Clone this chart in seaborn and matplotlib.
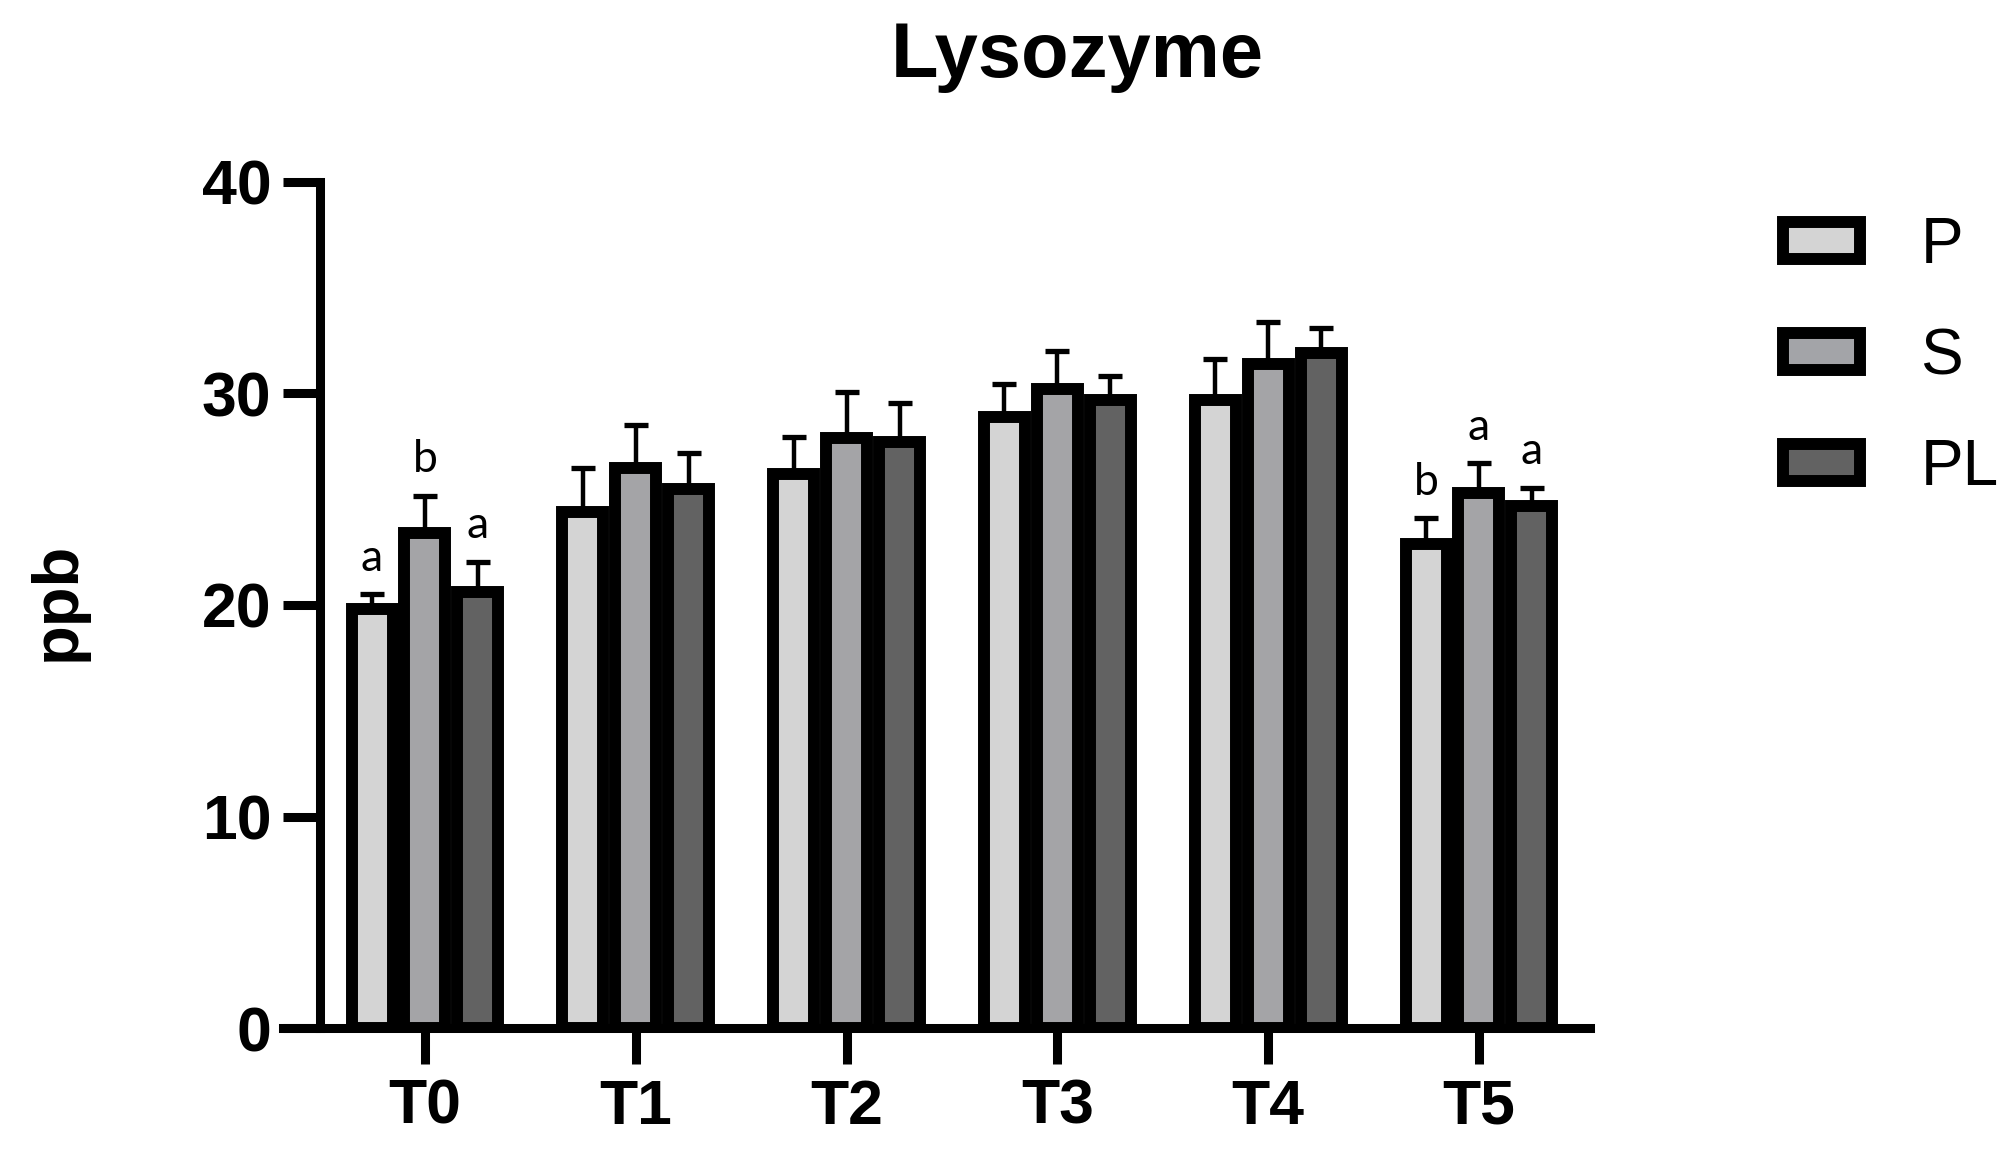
import numpy as np
import pandas as pd
import matplotlib
matplotlib.use("Agg")
import matplotlib.pyplot as plt
import matplotlib.patches as mpatches
import seaborn as sns

# ---------------- data ----------------
times = ["T0", "T1", "T2", "T3", "T4", "T5"]
groups = ["P", "S", "PL"]

P_mean = [19.8, 24.4, 26.2, 28.9, 29.7, 22.9]
S_mean = [23.4, 26.5, 27.9, 30.2, 31.4, 25.3]
PL_mean = [20.6, 25.5, 27.7, 29.7, 31.9, 24.7]

P_err = [0.7, 2.1, 1.75, 1.55, 1.95, 1.2]
S_err = [1.75, 2.0, 2.15, 1.8, 2.0, 1.4]
PL_err = [1.45, 1.7, 1.85, 1.15, 1.2, 0.85]

P_letters = ["a", "", "", "", "", "b"]
S_letters = ["b", "", "", "", "", "a"]
PL_letters = ["a", "", "", "", "", "a"]

colors = ["#d4d4d4", "#a3a4a8", "#626262"]

means = [P_mean, S_mean, PL_mean]
errs = [P_err, S_err, PL_err]
letters = [P_letters, S_letters, PL_letters]

df = pd.DataFrame({
    "time": np.tile(times, len(groups)),
    "group": np.repeat(groups, len(times)),
    "value": np.concatenate(means),
})

# ---------------- style ----------------
sns.set_style("ticks")
plt.rcParams["font.family"] = ["Liberation Sans", "DejaVu Sans"]
for k in ["text.color", "axes.labelcolor", "xtick.color", "ytick.color",
          "axes.edgecolor"]:
    plt.rcParams[k] = "black"

W, H = 2013, 1156
fig = plt.figure(figsize=(W / 100, H / 100), dpi=100)
ax = fig.add_axes([283 / W, 1 - 1028 / H, (1590 - 283) / W, (1028 - 182) / H])

sns.barplot(data=df, x="time", y="value", hue="group", order=times,
            hue_order=groups, palette=colors, width=0.754, gap=0.226,
            edgecolor="black", linewidth=8.6, errorbar=None, ax=ax,
            legend=False, zorder=2)

bar_conts = list(ax.containers)
for ci, cont in enumerate(bar_conts):
    xs = np.array([b.get_x() + b.get_width() / 2 for b in cont])
    hs = np.array([b.get_height() for b in cont])
    e = np.array(errs[ci])
    ax.errorbar(xs, hs, yerr=[np.zeros_like(e), e], fmt="none",
                ecolor="black", elinewidth=3.2, capsize=8.6, capthick=3.8,
                zorder=3)
    for x, h, ee, lab in zip(xs, hs, e, letters[ci]):
        if lab:
            ax.annotate(lab, (x, h + ee), xytext=(0, 17),
                        textcoords="offset points", ha="center",
                        va="baseline", fontsize=32, color="black",
                        family=["Lato", "DejaVu Sans"], zorder=4)

ax.set_xlim(-0.6736, 5.5266)
ax.set_ylim(0, 40)
ax.set_yticks([0, 10, 20, 30, 40])
ax.set_xlabel("")
ax.set_ylabel("")

for s in ["top", "right"]:
    ax.spines[s].set_visible(False)
ax.spines["left"].set_position(("data", -0.498))
ax.spines["left"].set_bounds(0, 40)
for s in ["left", "bottom"]:
    ax.spines[s].set_linewidth(6.5)
    ax.spines[s].set_color("black")
    ax.spines[s].set_zorder(5)

ax.tick_params(axis="y", length=27, width=6.5, pad=8, labelsize=45,
               color="black", labelcolor="black")
ax.tick_params(axis="x", length=26, width=6.5, pad=10, labelsize=45,
               color="black", labelcolor="black")
for lab in ax.get_xticklabels() + ax.get_yticklabels():
    lab.set_fontweight("bold")

# legend
handles = [mpatches.Patch(facecolor=c, edgecolor="black", linewidth=8.6,
                          label=g) for c, g in zip(colors, groups)]
fig.legend(handles=handles, loc="upper left",
           bbox_to_anchor=(1783 / W, 1 - 216 / H), frameon=False,
           fontsize=46, handlelength=1.2, handleheight=0.5,
           handletextpad=0.95, labelspacing=0.80, borderpad=0,
           borderaxespad=0, labelcolor="black")

fig.text(1077 / W, 1 - 77 / H, "Lysozyme", ha="center", va="baseline",
         fontsize=56, fontweight="bold", color="black")
fig.text(58 / W, 1 - 601 / H, "ppb", ha="center", va="center",
         rotation=90, fontsize=47, fontweight="bold", color="black")

fig.savefig("out.png", dpi=100)
